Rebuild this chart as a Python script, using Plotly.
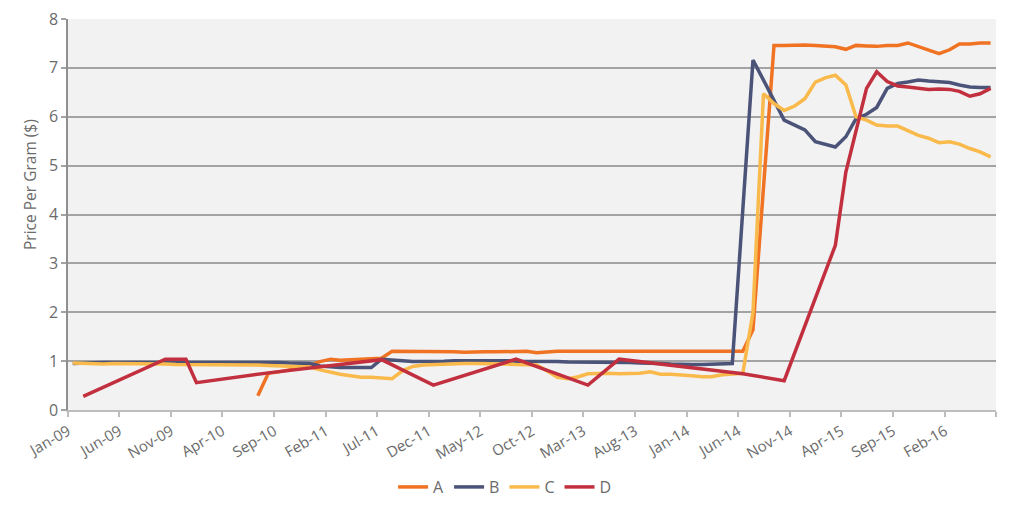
import pandas as pd
import plotly.graph_objects as go

# monthly price series (mid-month points)
months_bc = pd.date_range("2009-01-01", "2016-06-01", freq="MS") + pd.Timedelta(days=14)
months_a = pd.date_range("2010-07-01", "2016-06-01", freq="MS") + pd.Timedelta(days=14)

a_values = [
    0.29, 0.75, 0.78, 0.82, 0.86, 0.92,
    0.99, 1.04, 1.02, 1.03, 1.04, 1.04, 1.06, 1.20, 1.20, 1.19, 1.19, 1.19,
    1.20, 1.19, 1.18, 1.19, 1.19, 1.19, 1.19, 1.19, 1.20, 1.17, 1.19, 1.20,
    1.20, 1.20, 1.20, 1.20, 1.20, 1.21, 1.21, 1.20, 1.21, 1.20, 1.20, 1.20,
    1.20, 1.20, 1.21, 1.21, 1.20, 1.20, 1.64, 4.55, 7.46, 7.46, 7.47, 7.47,
    7.46, 7.45, 7.43, 7.38, 7.46, 7.45, 7.44, 7.46, 7.46, 7.51, 7.43, 7.36,
    7.29, 7.37, 7.49, 7.49, 7.51, 7.51,
]

b_values = [
    0.95, 0.96, 0.96, 0.97, 0.97, 0.97, 0.97, 0.97, 0.97, 0.98, 0.98, 0.98,
    0.98, 0.98, 0.98, 0.98, 0.98, 0.98, 0.97, 0.97, 0.97, 0.96, 0.96, 0.95,
    0.90, 0.88, 0.87, 0.87, 0.87, 0.87, 1.04, 1.03, 1.01, 0.99, 0.99, 1.00,
    1.00, 1.01, 1.01, 1.01, 1.02, 1.02, 1.01, 1.00, 1.00, 1.00, 0.99, 0.99,
    0.98, 0.98, 0.98, 0.97, 0.97, 0.97, 0.97, 0.96, 0.96, 0.95, 0.94, 0.93,
    0.93, 0.93, 0.94, 0.94, 0.95, 4.10, 7.16, 6.75, 6.34, 5.93, 5.83, 5.73,
    5.49, 5.43, 5.38, 5.59, 5.96, 6.05, 6.19, 6.58, 6.68, 6.71, 6.75, 6.73,
    6.71, 6.70, 6.65, 6.61, 6.60, 6.60,
]

c_values = [
    0.96, 0.95, 0.94, 0.94, 0.95, 0.95, 0.95, 0.94, 0.95, 0.94, 0.93, 0.93,
    0.93, 0.93, 0.93, 0.93, 0.93, 0.93, 0.92, 0.91, 0.90, 0.89, 0.89, 0.88,
    0.82, 0.77, 0.73, 0.70, 0.67, 0.67, 0.66, 0.64, 0.80, 0.89, 0.92, 0.93,
    0.94, 0.94, 0.95, 0.95, 0.95, 0.94, 0.94, 0.93, 0.93, 0.92, 0.80, 0.67,
    0.64, 0.68, 0.74, 0.75, 0.75, 0.74, 0.74, 0.75, 0.78, 0.73, 0.73, 0.72,
    0.70, 0.68, 0.68, 0.72, 0.74, 0.75, 2.00, 6.47, 6.27, 6.13, 6.22, 6.37,
    6.71, 6.80, 6.85, 6.65, 6.00, 5.93, 5.83, 5.81, 5.81, 5.71, 5.62, 5.56,
    5.47, 5.49, 5.44, 5.35, 5.28, 5.18,
]

# series D is reported at irregular dates
d_dates = [
    "2009-02-15", "2009-10-15", "2009-12-15", "2010-01-15", "2010-08-15",
    "2011-07-15", "2011-12-15", "2012-08-15", "2013-03-15", "2013-06-15",
    "2014-06-15", "2014-10-15", "2015-03-15", "2015-04-15", "2015-06-15",
    "2015-07-15", "2015-08-15", "2015-09-15", "2015-10-15", "2015-11-15",
    "2015-12-15", "2016-01-15", "2016-02-15", "2016-03-15", "2016-04-15",
    "2016-05-15", "2016-06-15",
]
d_values = [
    0.28, 1.04, 1.04, 0.56, 0.76,
    1.03, 0.51, 1.04, 0.51, 1.04,
    0.74, 0.60, 3.37, 4.87, 6.58,
    6.92, 6.72, 6.63, 6.61, 6.58,
    6.56, 6.57, 6.56, 6.52, 6.42,
    6.47, 6.58,
]

tick_dates = pd.date_range("2009-01-01", "2016-07-01", freq="5MS")
tick_labels = [d.strftime("%b-%y") for d in tick_dates[:-1]] + [""]

fig = go.Figure()
series = [
    ("A", months_a, a_values, "#f07324"),
    ("B", months_bc, b_values, "#4b5378"),
    ("C", months_bc, c_values, "#f9b94b"),
    ("D", pd.to_datetime(d_dates), d_values, "#c2303f"),
]
for name, xs, ys, col in series:
    fig.add_trace(go.Scatter(x=xs, y=ys, mode="lines", name=name,
                             line=dict(color=col, width=3.5)))

txt = "#6b6b6b"
# page body has an 8px margin, so the figure is drawn a bit smaller
fig.update_layout(
    width=1008, height=495,
    plot_bgcolor="#f2f2f2", paper_bgcolor="white",
    margin=dict(l=60, r=20, t=11, b=93, autoexpand=False),
    font=dict(family="'Open Sans', sans-serif", size=15, color=txt),
    showlegend=True,
    legend=dict(orientation="h", x=0.471, xanchor="center", y=-0.197, yanchor="middle",
                font=dict(size=16, color=txt), itemwidth=30, traceorder="normal"),
    xaxis=dict(
        type="date", automargin=False,
        range=["2009-01-01", "2016-07-01"],
        tickvals=tick_dates, ticktext=tick_labels,
        tickangle=-30, ticklabeloverflow="allow",
        showgrid=False, zeroline=False,
        showline=True, linecolor="#bdbdbd", linewidth=2,
        ticks="outside", ticklen=5, tickcolor="#bdbdbd", tickwidth=1.5,
        tickfont=dict(size=15, color=txt),
    ),
    yaxis=dict(
        automargin=False,
        range=[0, 8], dtick=1, ticklabeloverflow="allow",
        showgrid=True, gridcolor="#a3a3a3", gridwidth=1.5,
        zeroline=False,
        showline=True, linecolor="#8f8f8f", linewidth=1.5,
        ticks="outside", ticklen=5, tickcolor="#a3a3a3", tickwidth=1.5,
        tickfont=dict(size=16, color=txt),
    ),
)

# axis title sits above the middle of the axis, as in the original
fig.add_annotation(
    text="Price Per Gram ($)", textangle=-90, showarrow=False,
    xref="paper", yref="paper", x=-0.041, y=0.578,
    xanchor="center", yanchor="middle",
    font=dict(size=15.5, color=txt),
)

fig.write_html("out.html")
